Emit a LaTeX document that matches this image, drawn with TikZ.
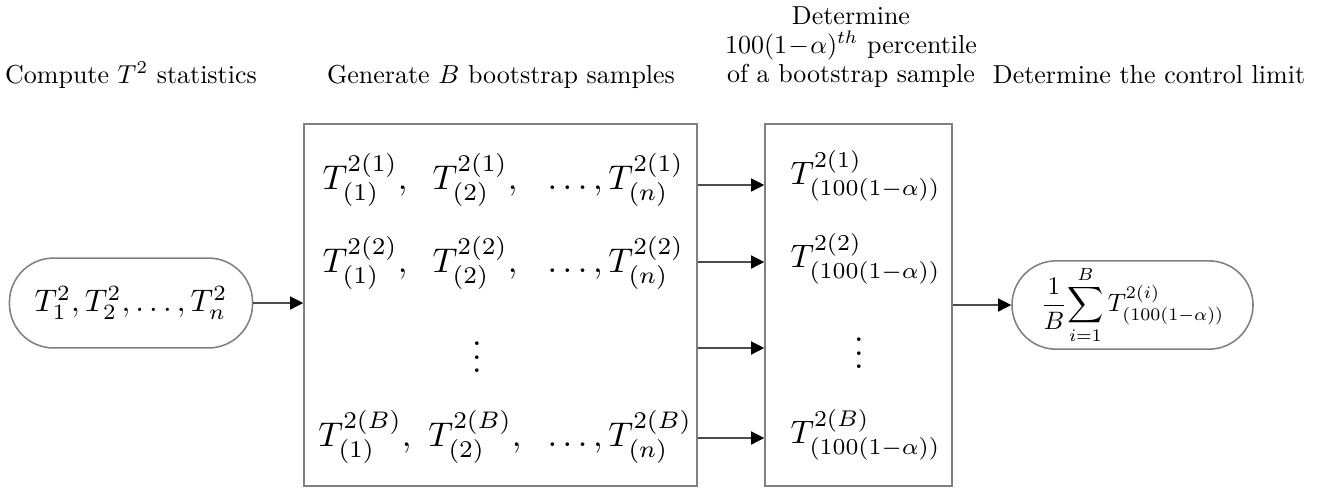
\documentclass[tikz,border=0pt]{standalone}
\usepackage{amsmath}
\usepackage{graphicx}
\usetikzlibrary{arrows.meta}
\newcommand{\mbig}[1]{\scalebox{1.32}{#1}}
\newcommand{\mright}[1]{\scalebox{1.25}{#1}}
\newcommand{\mpill}[1]{\scalebox{1.2}{#1}}
\newcommand{\mmid}[1]{\scalebox{0.97}{#1}}
\begin{document}
\begin{tikzpicture}[x=0.385pt,y=-0.385pt,
  title/.style={inner sep=0pt, align=center},
  boxnode/.style={draw=black!50, line width=0.6pt, inner sep=0pt},
  pill/.style={draw=black!50, line width=0.6pt, rounded corners=17pt, inner sep=0pt},
  bigmath/.style={inner sep=0pt},
  arr/.style={draw=black!70, line width=0.5pt, -{Triangle[length=5pt,width=5pt,color=black]}}]
\useasboundingbox (0,0) rectangle (1333,488);

% titles
\node[title, anchor=base] (t1) at (131,83) {Compute $T^2$ statistics};
\node[title, anchor=base] (t2) at (501,83) {Generate $B$ bootstrap samples};
\node[title, anchor=south] (t3) at (851,88) {Determine\\[-0.8pt] $100(1\mkern1mu{-}\mkern1mu\alpha)^{th}$ percentile\\[-0.8pt] of a bootstrap sample};
\node[title, anchor=base] (t4) at (1149,83) {Determine the control limit};

% left pill
\node[pill, minimum width=93.6pt, minimum height=34.6pt] (p1) at (131,303) {\mpill{$T_1^2,T_2^2,\ldots,T_n^2$}};

% big box
\node[boxnode, minimum width=151.3pt, minimum height=139.4pt] (b1) at (500.5,305) {};
\node[bigmath] (r1a) at (365,180) {\mbig{$T^{2(1)}_{(1)},$}};
\node[bigmath] (r1b) at (475,180) {\mbig{$T^{2(1)}_{(2)},$}};
\node[bigmath, anchor=west] (r1c) at (547,180) {\mbig{$\ldots, T^{2(1)}_{(n)}$}};
\node[bigmath] (r2a) at (365,263) {\mbig{$T^{2(2)}_{(1)},$}};
\node[bigmath] (r2b) at (475,263) {\mbig{$T^{2(2)}_{(2)},$}};
\node[bigmath, anchor=west] (r2c) at (547,263) {\mbig{$\ldots, T^{2(2)}_{(n)}$}};
\node[bigmath] (rdots) at (477,347) {\mbig{$\vdots$}};
\node[bigmath] (r3a) at (365,437) {\mbig{$T^{2(B)}_{(1)},$}};
\node[bigmath] (r3b) at (475,437) {\mbig{$T^{2(B)}_{(2)},$}};
\node[bigmath, anchor=west] (r3c) at (547,437) {\mbig{$\ldots, T^{2(B)}_{(n)}$}};

% right box
\node[boxnode, minimum width=72pt, minimum height=139.4pt] (b2) at (858.5,305) {};
\node[bigmath, anchor=west] (q1) at (790,176) {\mright{$T^{2(1)}_{(100(1-\alpha))}$}};
\node[bigmath, anchor=west] (q2) at (790,259) {\mright{$T^{2(2)}_{(100(1-\alpha))}$}};
\node[bigmath] (qdots) at (859,343) {\mbig{$\vdots$}};
\node[bigmath, anchor=west] (q3) at (790,435) {\mright{$T^{2(B)}_{(100(1-\alpha))}$}};

% right pill
\node[pill, minimum width=92.8pt, minimum height=34pt] (p2) at (1132.5,305) {\mmid{$\displaystyle\frac{1}{B}\!\sum_{i=1}^{B} T^{2(i)}_{(100(1-\alpha))}$}};

% connectors
\coordinate (a1) at (730,185);
\coordinate (a2) at (730,262);
\coordinate (a3) at (730,348);
\coordinate (a4) at (730,438);
\draw[arr] (p1.east) -- (p1.east -| b1.west);
\draw[arr] (a1 -| b1.east) -- (a1 -| b2.west);
\draw[arr] (a2 -| b1.east) -- (a2 -| b2.west);
\draw[arr] (a3 -| b1.east) -- (a3 -| b2.west);
\draw[arr] (a4 -| b1.east) -- (a4 -| b2.west);
\draw[arr] (b2.east) -- (b2.east -| p2.west);
\end{tikzpicture}
\end{document}
